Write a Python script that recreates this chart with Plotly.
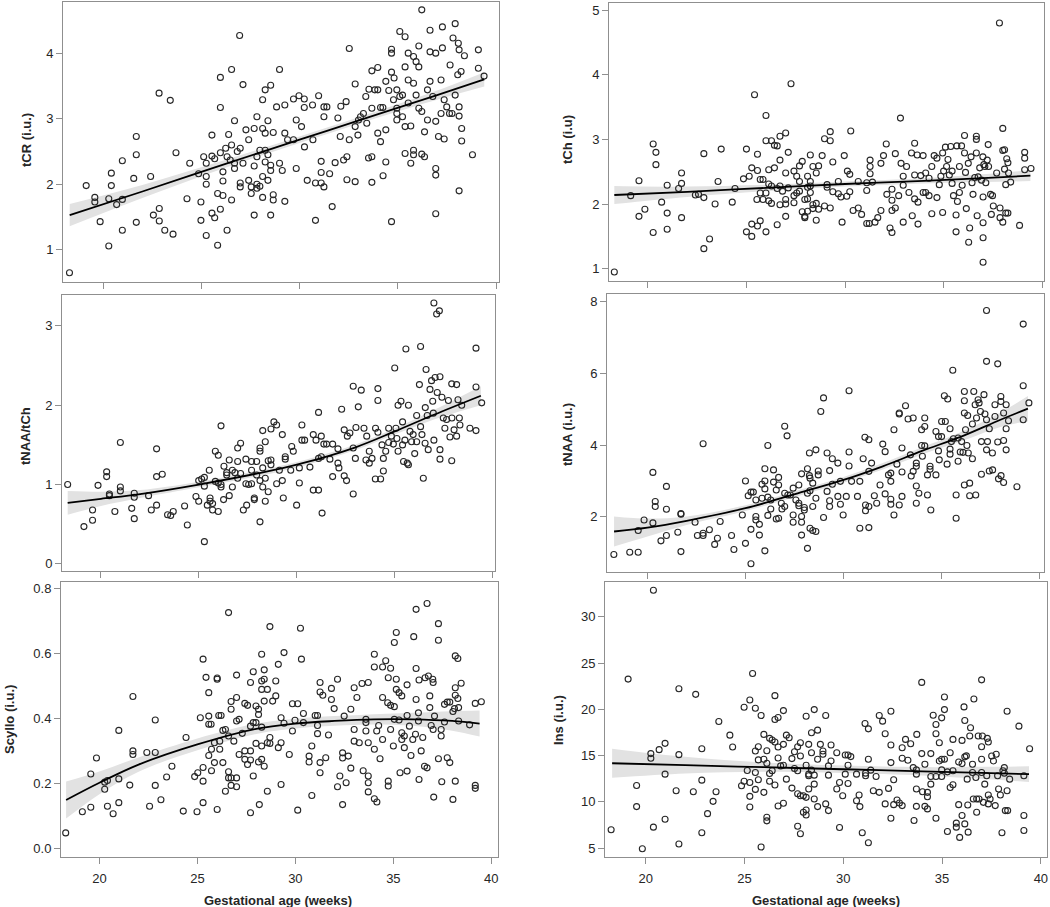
import plotly.graph_objects as go

# ---------------- Data ----------------
# Panel 1: tCR (i.u.)
tcr_age = [18.29,19.14,19.58,19.58,19.85,20.29,20.29,20.42,20.42,20.69,
           20.98,20.98,20.98,21.56,21.69,21.69,21.69,22.42,22.56,22.85,
           22.86,22.86,23.14,23.42,23.56,23.71,24.27,24.41,24.86,24.98,
           24.98,25.12,25.25,25.25,25.25,25.25,25.54,25.54,25.54,25.68,
           25.68,25.83,25.83,25.97,25.97,25.97,25.97,26.10,26.10,26.10,
           26.24,26.31,26.31,26.39,26.47,26.54,26.54,26.54,26.69,26.69,
           26.69,26.83,26.95,26.98,26.98,26.98,27.12,27.12,27.27,27.41,
           27.41,27.54,27.54,27.69,27.69,27.69,27.83,27.83,27.83,27.83,
           27.98,27.98,28.12,28.12,28.12,28.12,28.25,28.25,28.25,28.25,
           28.39,28.39,28.39,28.53,28.53,28.53,28.53,28.66,28.66,28.66,
           28.83,28.98,28.98,29.12,29.25,29.25,29.25,29.39,29.69,29.69,
           29.83,29.83,29.97,30.10,30.24,30.24,30.25,30.39,30.66,30.68,
           30.81,30.81,30.97,31.10,31.10,31.10,31.24,31.24,31.24,31.39,
           31.53,31.66,31.81,31.95,32.07,32.10,32.24,32.37,32.41,32.41,
           32.53,32.53,32.83,32.83,32.83,32.97,33.00,33.10,33.25,33.37,
           33.42,33.51,33.53,33.68,33.68,33.68,33.68,33.83,33.98,33.98,
           33.98,34.12,34.12,34.24,34.25,34.39,34.39,34.39,34.54,34.68,
           34.68,34.68,34.68,34.78,34.81,34.95,34.95,34.95,34.95,35.10,
           35.10,35.24,35.24,35.37,35.37,35.37,35.37,35.53,35.53,35.53,
           35.66,35.66,35.80,35.80,35.80,35.80,35.93,35.93,36.07,36.07,
           36.07,36.22,36.22,36.22,36.36,36.36,36.51,36.51,36.64,36.64,
           36.64,36.78,36.93,36.93,36.93,36.93,36.93,37.07,37.20,37.20,
           37.27,37.27,37.36,37.36,37.49,37.63,37.66,37.76,37.81,37.92,
           37.92,38.05,38.08,38.12,38.12,38.12,38.12,38.22,38.25,38.25,
           38.39,38.80,39.10,39.10,39.39]
tcr_val = [0.65,1.98,1.80,1.73,1.43,1.78,1.06,2.17,1.98,1.69,
           1.77,2.36,1.30,2.09,2.73,2.45,1.42,2.12,1.53,3.39,
           1.63,1.44,1.30,3.28,1.24,2.48,1.78,2.32,2.16,1.73,
           1.45,2.42,2.32,2.12,2.00,1.22,2.75,2.43,1.56,1.49,
           2.39,1.86,1.07,3.63,3.17,2.48,1.62,2.05,2.19,1.83,
           2.55,2.42,1.30,2.76,2.37,3.75,2.60,1.76,2.97,2.32,
           2.24,2.50,4.27,2.55,2.02,1.96,3.52,2.32,2.83,2.68,
           2.06,1.86,1.96,2.85,2.28,1.53,3.03,2.42,2.00,1.94,
           2.52,1.97,3.29,2.85,2.12,1.80,3.44,2.78,2.52,2.34,
           2.97,2.45,2.06,3.51,2.29,2.21,1.53,2.79,1.84,1.76,
           3.18,3.75,2.32,2.21,3.21,2.78,1.74,2.68,3.30,2.68,
           2.98,2.24,3.35,2.88,3.30,3.17,2.57,2.06,3.21,2.68,
           2.02,1.45,3.35,2.35,2.18,2.02,3.03,1.96,3.18,3.18,
           2.16,1.66,2.33,3.01,2.73,3.19,2.37,3.26,2.42,2.07,
           4.07,2.68,3.53,2.88,2.04,2.75,2.98,3.03,3.08,3.34,
           2.93,2.40,3.45,3.73,3.16,2.42,2.03,3.44,3.78,3.44,
           2.78,2.65,3.17,3.17,2.13,3.57,2.34,2.83,3.43,4.06,
           4.00,3.71,1.43,3.29,3.62,3.44,3.16,3.08,2.98,4.33,
           3.34,3.36,3.03,4.25,3.79,2.88,2.47,4.00,3.59,3.24,
           2.32,2.89,3.95,3.54,2.52,2.45,3.87,3.36,4.11,3.79,
           3.16,3.11,2.46,4.66,2.42,2.80,3.44,2.98,4.35,4.02,
           3.57,3.34,4.00,2.96,2.24,2.14,1.55,2.73,3.59,3.08,
           4.40,4.08,3.29,2.69,3.18,3.08,3.82,3.08,4.23,4.45,
           3.36,3.67,4.15,4.05,3.04,3.18,1.90,3.72,2.85,2.66,
           3.96,2.45,4.05,3.77,3.65]
tcr_fit_age = [18.3, 22, 26, 30, 34, 37, 39.4]
tcr_fit = [1.53, 1.89, 2.29, 2.68, 3.07, 3.36, 3.60]
tcr_fit_se = [0.17, 0.10, 0.06, 0.05, 0.05, 0.07, 0.11]

# Panel 2: tNAA/tCh
ratio_age = [18.30,19.13,19.57,19.57,19.85,20.29,20.29,20.43,20.43,20.71,
             20.99,20.99,20.99,21.57,21.70,21.70,21.70,22.43,22.57,22.84,
             22.84,22.84,23.13,23.40,23.56,23.69,24.27,24.41,24.85,24.99,
             24.99,25.14,25.28,25.28,25.28,25.43,25.53,25.57,25.57,25.70,
             25.70,25.84,25.84,25.99,25.99,25.99,26.13,26.13,26.13,26.26,
             26.28,26.42,26.42,26.55,26.55,26.71,26.71,26.84,26.98,26.98,
             26.98,27.13,27.13,27.27,27.40,27.40,27.44,27.54,27.69,27.69,
             27.69,27.83,27.83,27.95,27.95,28.12,28.12,28.12,28.12,28.26,
             28.26,28.26,28.39,28.39,28.39,28.54,28.54,28.68,28.68,28.68,
             28.83,28.97,28.97,29.11,29.26,29.26,29.31,29.41,29.41,29.69,
             29.74,29.82,29.99,30.13,30.13,30.26,30.26,30.40,30.67,30.84,
             30.84,30.98,31.11,31.11,31.11,31.25,31.25,31.29,31.38,31.52,
             31.69,31.83,31.83,32.10,32.10,32.15,32.29,32.42,32.42,32.54,
             32.58,32.71,32.88,32.88,32.88,32.99,33.02,33.14,33.29,33.43,
             33.53,33.57,33.70,33.70,33.84,34.01,34.02,34.14,34.14,34.14,
             34.28,34.35,34.42,34.42,34.54,34.69,34.69,34.83,34.93,35.00,
             35.06,35.11,35.17,35.17,35.32,35.40,35.40,35.45,35.52,35.57,
             35.64,35.70,35.70,35.78,35.86,35.94,36.02,36.12,36.12,36.26,
             36.32,36.32,36.39,36.46,36.55,36.56,36.60,36.66,36.71,36.80,
             36.88,36.94,36.97,37.00,37.00,37.06,37.14,37.17,37.28,37.31,
             37.31,37.31,37.41,37.48,37.56,37.65,37.74,37.82,37.91,37.91,
             37.92,38.03,38.16,38.16,38.23,38.30,38.33,38.42,38.84,39.15,
             39.15,39.15,39.44]
ratio_val = [1.00,0.47,0.68,0.55,0.99,1.16,1.10,0.88,0.86,0.66,
             1.53,0.97,0.92,0.70,0.89,0.84,0.57,0.86,0.68,1.45,
             1.10,0.74,1.13,0.62,0.61,0.66,0.73,0.49,0.85,0.79,
             1.05,1.07,1.09,0.98,0.28,0.74,1.18,0.83,0.79,0.76,
             0.68,1.42,1.04,1.37,1.02,0.66,1.74,1.00,0.97,0.81,
             1.23,1.15,1.12,1.31,0.86,1.18,0.97,1.15,1.46,1.29,
             1.08,1.52,1.14,0.68,1.32,1.01,0.74,1.00,1.29,1.18,
             1.01,0.83,0.81,1.29,1.12,1.46,1.42,1.05,0.53,1.68,
             1.21,0.97,1.54,1.08,0.79,1.30,0.91,1.70,1.31,1.25,
             1.79,1.75,1.01,1.18,1.63,1.05,0.83,1.35,1.32,1.18,
             1.48,1.42,0.74,1.21,1.02,1.75,1.56,1.56,1.22,0.93,
             1.63,1.56,1.91,1.33,0.93,1.61,1.35,0.64,1.51,1.51,
             1.32,1.51,1.10,1.45,1.27,1.21,1.95,1.69,1.11,1.05,
             1.61,1.65,2.24,1.46,0.88,1.33,1.72,1.98,2.19,1.71,
             1.31,1.61,1.42,1.27,1.33,1.07,1.71,2.21,2.06,1.66,
             1.07,1.50,1.33,1.17,1.42,1.71,1.53,1.61,1.51,2.47,
             1.71,1.58,1.42,2.00,2.05,1.50,1.79,1.29,1.56,2.71,
             1.27,2.00,1.25,1.67,1.54,1.63,1.39,1.87,1.54,2.26,
             2.74,1.73,1.63,1.08,1.52,1.97,2.45,1.87,1.44,2.20,
             2.31,2.05,1.90,3.29,1.56,2.35,3.15,2.16,3.19,2.36,
             1.44,1.32,2.10,1.84,1.71,1.82,2.06,1.60,2.27,1.30,
             1.84,1.69,2.26,1.61,2.07,1.84,1.75,2.00,1.71,2.72,
             2.23,1.68,2.03]
ratio_fit_age = [18.3, 20, 22, 25, 28, 30, 33, 35, 37, 39.4]
ratio_fit = [0.77, 0.82, 0.88, 1.00, 1.14, 1.25, 1.47, 1.67, 1.88, 2.12]
ratio_fit_se = [0.15, 0.09, 0.05, 0.035, 0.035, 0.035, 0.035, 0.04, 0.06, 0.12]

# Panel 3: Scyllo (i.u.)
scy_age = [18.28,19.13,19.56,19.56,19.85,20.27,20.27,20.41,20.41,20.70,
           20.99,20.99,20.99,21.55,21.71,21.71,21.71,22.42,22.56,22.85,
           22.85,22.85,23.14,23.43,23.70,24.28,24.42,24.86,24.98,25.02,
           25.15,25.29,25.29,25.29,25.29,25.44,25.58,25.58,25.58,25.58,
           25.70,25.72,25.72,25.87,25.87,26.01,26.01,26.01,26.09,26.14,
           26.14,26.21,26.30,26.30,26.43,26.43,26.59,26.59,26.59,26.59,
           26.72,26.72,26.72,26.72,26.86,27.00,27.00,27.00,27.00,27.00,
           27.13,27.13,27.29,27.42,27.42,27.42,27.56,27.56,27.71,27.71,
           27.71,27.71,27.71,27.85,27.85,27.85,27.99,27.99,27.99,28.12,
           28.12,28.12,28.16,28.28,28.28,28.28,28.28,28.28,28.28,28.41,
           28.41,28.41,28.41,28.57,28.57,28.57,28.70,28.70,28.70,28.84,
           29.00,29.00,29.13,29.13,29.27,29.27,29.27,29.42,29.42,29.69,
           29.85,29.85,29.98,30.12,30.12,30.26,30.31,30.41,30.41,30.70,
           30.70,30.84,30.84,31.01,31.13,31.13,31.13,31.26,31.26,31.26,
           31.26,31.40,31.55,31.69,31.84,31.84,31.98,32.15,32.15,32.27,
           32.41,32.41,32.41,32.49,32.59,32.70,32.83,32.83,33.00,33.00,
           33.00,33.14,33.26,33.40,33.46,33.60,33.60,33.60,33.72,33.72,
           33.72,33.72,33.72,34.03,34.03,34.03,34.03,34.15,34.16,34.25,
           34.32,34.45,34.45,34.45,34.61,34.71,34.74,34.74,34.74,34.86,
           34.86,34.86,35.00,35.05,35.05,35.05,35.15,35.15,35.15,35.29,
           35.29,35.34,35.43,35.43,35.43,35.56,35.56,35.70,35.70,35.70,
           35.82,35.90,35.99,36.04,36.13,36.16,36.16,36.16,36.28,36.28,
           36.31,36.31,36.42,36.50,36.59,36.62,36.72,36.72,36.79,36.86,
           36.86,36.93,37.01,37.03,37.03,37.06,37.10,37.30,37.30,37.30,
           37.44,37.44,37.47,37.61,37.61,37.75,37.75,37.88,37.88,38.04,
           38.04,38.12,38.16,38.16,38.16,38.16,38.29,38.29,38.33,38.33,
           38.46,38.89,39.18,39.18,39.18,39.49]
scy_val = [0.049,0.114,0.230,0.128,0.279,0.183,0.205,0.210,0.131,0.108,
           0.364,0.215,0.142,0.196,0.468,0.301,0.290,0.296,0.131,0.396,
           0.296,0.195,0.151,0.221,0.254,0.116,0.342,0.222,0.114,0.234,
           0.403,0.583,0.250,0.208,0.142,0.527,0.480,0.408,0.383,0.287,
           0.383,0.306,0.240,0.326,0.265,0.525,0.521,0.121,0.410,0.331,
           0.306,0.410,0.364,0.265,0.367,0.177,0.726,0.347,0.237,0.218,
           0.453,0.429,0.218,0.195,0.331,0.534,0.465,0.393,0.218,0.191,
           0.398,0.290,0.355,0.447,0.301,0.275,0.441,0.259,0.511,0.377,
           0.301,0.273,0.111,0.544,0.388,0.224,0.439,0.388,0.324,0.429,
           0.413,0.267,0.136,0.516,0.490,0.374,0.316,0.275,0.598,0.550,
           0.521,0.454,0.254,0.490,0.326,0.177,0.683,0.342,0.324,0.454,
           0.516,0.470,0.567,0.311,0.326,0.403,0.198,0.603,0.386,0.290,
           0.362,0.446,0.395,0.446,0.119,0.678,0.583,0.416,0.388,0.285,
           0.267,0.316,0.164,0.410,0.410,0.354,0.379,0.511,0.482,0.265,
           0.234,0.472,0.280,0.350,0.493,0.459,0.431,0.521,0.191,0.224,
           0.295,0.279,0.136,0.408,0.203,0.285,0.429,0.248,0.495,0.367,
           0.331,0.465,0.326,0.508,0.240,0.398,0.388,0.362,0.511,0.326,
           0.224,0.203,0.175,0.598,0.559,0.306,0.154,0.362,0.144,0.379,
           0.277,0.559,0.465,0.336,0.578,0.449,0.526,0.208,0.193,0.555,
           0.441,0.367,0.316,0.634,0.437,0.398,0.665,0.521,0.490,0.480,
           0.396,0.234,0.470,0.357,0.336,0.347,0.311,0.504,0.410,0.239,
           0.377,0.287,0.336,0.652,0.352,0.554,0.736,0.459,0.393,0.418,
           0.519,0.213,0.301,0.342,0.254,0.526,0.754,0.249,0.531,0.470,
           0.434,0.379,0.521,0.511,0.367,0.159,0.408,0.692,0.641,0.277,
           0.367,0.347,0.206,0.444,0.390,0.451,0.280,0.451,0.265,0.422,
           0.152,0.431,0.593,0.495,0.472,0.208,0.585,0.462,0.434,0.393,
           0.509,0.381,0.447,0.195,0.186,0.452]
scy_fit_age = [18.3, 20, 22, 25, 28, 30, 32, 34, 36, 38, 39.4]
scy_fit = [0.150, 0.203, 0.259, 0.321, 0.369, 0.385, 0.393, 0.398, 0.398, 0.393, 0.385]
scy_fit_se = [0.057, 0.035, 0.022, 0.018, 0.016, 0.015, 0.015, 0.016, 0.020, 0.030, 0.040]

# Panel 4: tCh (i.u)
tch_age = [18.30,19.13,19.55,19.55,19.85,20.27,20.27,20.41,20.41,20.70,
           20.98,20.98,20.98,21.56,21.71,21.71,21.71,22.41,22.57,22.84,
           22.84,22.84,23.13,23.41,23.56,23.72,24.28,24.42,24.85,25.00,
           25.00,25.14,25.27,25.27,25.27,25.41,25.53,25.56,25.56,25.56,
           25.70,25.70,25.70,25.84,25.84,25.99,25.99,25.99,25.99,26.13,
           26.13,26.13,26.27,26.27,26.27,26.42,26.42,26.56,26.56,26.56,
           26.70,26.70,26.70,26.70,26.83,26.99,26.99,26.99,26.99,26.99,
           27.12,27.12,27.26,27.41,27.41,27.41,27.55,27.55,27.69,27.69,
           27.69,27.83,27.83,27.96,27.96,27.96,28.10,28.10,28.10,28.10,
           28.24,28.24,28.24,28.24,28.37,28.37,28.37,28.54,28.54,28.54,
           28.66,28.66,28.84,28.96,28.96,29.09,29.09,29.25,29.25,29.25,
           29.38,29.38,29.66,29.66,29.79,29.85,29.96,30.09,30.12,30.24,
           30.24,30.29,30.41,30.67,30.67,30.84,31.10,31.10,31.10,31.23,
           31.27,31.27,31.27,31.39,31.52,31.66,31.82,31.82,31.95,32.09,
           32.12,32.28,32.38,32.38,32.38,32.38,32.55,32.55,32.72,32.81,
           32.84,32.95,32.95,32.95,33.12,33.24,33.37,33.41,33.53,33.53,
           33.53,33.66,33.70,33.70,33.84,33.96,33.96,34.09,34.09,34.26,
           34.26,34.40,34.40,34.52,34.66,34.66,34.78,34.86,34.95,34.95,
           35.00,35.09,35.15,35.22,35.29,35.36,35.43,35.43,35.50,35.63,
           35.63,35.67,35.70,35.80,35.80,35.91,35.94,36.06,36.06,36.11,
           36.15,36.25,36.27,36.32,36.39,36.44,36.49,36.58,36.66,36.66,
           36.66,36.70,36.75,36.83,36.92,36.99,37.00,37.00,37.00,37.00,
           37.04,37.09,37.14,37.21,37.26,37.28,37.38,37.42,37.48,37.52,
           37.69,37.83,37.86,37.86,38.00,38.00,38.00,38.09,38.09,38.15,
           38.15,38.20,38.26,38.26,38.29,38.40,38.85,39.11,39.11,39.11,
           39.43]
tch_val = [0.95,2.13,1.81,2.36,1.92,2.93,1.56,2.80,2.61,2.03,
           2.29,1.86,1.61,2.24,2.48,2.32,1.79,2.14,2.15,2.78,
           2.10,1.31,1.46,2.00,2.35,2.85,2.03,2.24,2.39,2.85,
           1.57,2.43,2.56,1.69,1.50,3.69,2.07,2.77,2.52,1.66,
           2.38,2.17,1.74,2.38,2.07,3.37,2.98,2.17,1.57,2.53,
           2.31,2.05,2.98,2.28,2.01,2.91,2.56,2.90,2.24,1.68,
           3.05,2.68,2.28,1.99,2.20,3.10,2.48,2.07,2.00,1.81,
           2.80,2.25,3.86,2.51,2.13,2.02,2.43,2.17,2.59,2.35,
           2.20,2.66,1.88,2.07,1.81,1.79,2.43,2.26,2.08,1.89,
           2.76,2.35,2.28,2.18,2.58,1.93,1.99,2.01,1.75,2.48,
           2.59,1.92,2.75,3.01,1.97,2.30,2.26,3.12,2.98,1.94,
           2.65,2.19,2.35,2.16,2.11,1.72,2.75,2.12,2.51,2.46,
           2.19,3.13,1.90,2.35,1.94,1.84,2.33,2.21,1.70,1.70,
           2.68,2.58,2.47,2.34,1.72,1.79,2.63,1.90,2.75,2.93,
           2.15,1.63,2.23,2.06,1.90,1.56,2.78,1.94,2.13,3.33,
           2.63,2.43,2.29,1.72,2.58,2.18,2.79,1.82,2.94,2.45,
           2.08,2.76,2.03,1.69,2.44,2.75,2.18,2.48,2.18,2.13,
           2.40,1.85,2.58,2.75,2.71,2.10,2.30,2.43,2.79,1.87,
           2.51,2.88,2.58,2.69,2.45,2.89,2.32,2.51,2.13,1.83,
           1.57,2.90,2.04,2.58,2.18,2.90,2.29,3.06,2.79,2.49,
           1.93,2.63,1.41,1.63,2.73,2.33,2.15,2.41,3.05,3.00,
           2.79,1.82,2.42,2.56,2.37,2.73,2.11,1.71,1.48,1.10,
           2.61,2.58,2.33,2.68,2.92,2.58,2.15,1.84,2.13,1.97,
           2.48,4.80,1.94,1.79,3.17,1.72,2.83,2.84,2.54,2.30,
           1.86,2.70,2.64,1.86,2.48,2.34,1.67,2.80,2.71,2.53,
           2.55]
tch_fit_age = [18.3, 22, 26, 30, 34, 37, 39.4]
tch_fit = [2.14, 2.19, 2.25, 2.31, 2.36, 2.40, 2.44]
tch_fit_se = [0.14, 0.08, 0.05, 0.04, 0.04, 0.06, 0.085]

# Panel 5: tNAA (i.u.)
tnaa_age = [18.29,19.10,19.53,19.53,19.83,20.28,20.28,20.40,20.40,20.69,
            20.97,20.97,20.97,21.55,21.71,21.71,21.71,22.43,22.55,22.84,
            22.84,22.84,23.16,23.43,23.57,23.71,24.29,24.41,24.84,25.00,
            25.00,25.14,25.28,25.28,25.28,25.40,25.53,25.53,25.53,25.71,
            25.71,25.84,25.84,25.99,25.99,25.99,25.99,26.14,26.14,26.14,
            26.29,26.29,26.43,26.43,26.57,26.57,26.69,26.69,26.69,26.83,
            26.86,27.00,27.00,27.00,27.12,27.16,27.29,27.43,27.43,27.43,
            27.57,27.72,27.72,27.72,27.86,27.86,27.86,27.86,28.00,28.00,
            28.16,28.16,28.16,28.26,28.26,28.29,28.29,28.29,28.43,28.43,
            28.43,28.59,28.59,28.59,28.71,28.71,28.84,28.98,28.98,29.16,
            29.16,29.29,29.29,29.29,29.43,29.43,29.71,29.71,29.84,29.84,
            29.98,30.14,30.28,30.28,30.28,30.41,30.71,30.83,30.83,31.00,
            31.09,31.12,31.12,31.29,31.29,31.29,31.29,31.43,31.57,31.69,
            31.86,32.00,32.12,32.12,32.29,32.41,32.41,32.41,32.41,32.57,
            32.57,32.72,32.84,32.84,32.84,32.98,32.98,32.98,33.16,33.29,
            33.41,33.45,33.55,33.55,33.71,33.71,33.71,33.71,33.84,33.98,
            33.98,34.02,34.14,34.14,34.14,34.28,34.28,34.41,34.41,34.45,
            34.71,34.71,34.84,34.84,34.88,35.00,35.00,35.14,35.19,35.28,
            35.31,35.43,35.43,35.43,35.50,35.57,35.60,35.74,35.74,35.84,
            35.84,35.95,36.02,36.09,36.16,36.16,36.16,36.16,36.22,36.29,
            36.33,36.36,36.43,36.43,36.57,36.57,36.64,36.71,36.74,36.78,
            36.86,36.91,36.98,37.03,37.03,37.16,37.21,37.29,37.29,37.29,
            37.29,37.34,37.43,37.43,37.59,37.60,37.72,37.72,37.86,37.86,
            37.90,38.02,38.02,38.03,38.16,38.16,38.16,38.29,38.29,38.29,
            38.41,38.84,39.16,39.16,39.16,39.45]
tnaa_val = [0.95,1.01,1.01,1.62,1.91,3.24,1.83,2.43,2.29,1.33,
            2.85,2.21,1.48,1.57,2.09,2.07,1.03,1.85,1.48,4.04,
            1.54,1.48,1.64,1.23,1.40,1.87,1.48,1.09,2.05,3.00,
            1.26,2.59,2.69,1.65,0.69,2.69,2.47,2.01,1.91,1.79,
            1.49,2.91,2.52,3.34,3.00,2.78,1.05,3.99,2.55,2.04,
            2.47,2.22,3.31,2.97,2.75,1.94,3.10,2.89,1.96,2.38,
            2.22,4.53,2.66,2.29,4.26,2.61,2.61,2.80,2.05,1.85,
            2.47,2.89,2.38,2.31,3.20,2.01,1.85,1.49,2.26,2.19,
            3.34,2.66,1.12,3.78,3.15,3.08,2.73,1.68,2.94,2.29,
            1.62,3.87,2.52,1.59,3.28,3.17,4.94,5.32,1.98,3.78,
            2.71,3.29,2.45,2.29,2.91,3.62,3.50,2.57,2.99,2.35,
            2.05,2.57,5.52,3.81,3.42,2.99,2.57,1.68,2.99,3.62,
            4.22,2.33,2.17,4.15,3.27,2.29,1.70,3.50,2.59,2.38,
            2.89,4.03,3.82,2.64,3.17,3.22,2.99,2.49,2.35,4.43,
            2.05,3.47,4.90,4.87,2.33,3.92,3.25,2.57,5.10,4.73,
            3.73,3.14,4.76,3.27,3.50,3.41,2.86,2.38,2.66,4.43,
            3.99,3.69,4.76,4.52,3.98,3.17,2.61,3.41,3.33,2.19,
            4.38,3.17,4.24,3.84,3.59,4.66,4.24,5.38,4.66,3.47,
            5.29,4.46,3.89,3.75,4.10,6.09,4.18,2.61,1.96,4.20,
            3.55,3.81,4.10,3.80,5.50,5.24,4.90,2.89,4.43,3.99,
            4.83,3.78,2.94,2.59,4.59,3.62,5.50,5.13,2.61,4.76,
            5.27,5.18,4.94,4.10,3.19,5.41,4.87,7.76,6.34,4.71,
            3.87,4.10,4.46,3.28,3.78,3.31,4.80,5.13,6.27,4.09,
            3.06,5.36,5.22,3.15,4.90,4.13,2.96,5.13,3.87,4.46,
            4.68,2.84,7.38,5.66,4.71,5.18]
tnaa_fit_age = [18.3, 20, 22, 25, 28, 30, 32, 34, 36, 38, 39.4]
tnaa_fit = [1.59, 1.70, 1.89, 2.24, 2.71, 3.03, 3.41, 3.84, 4.24, 4.71, 5.02]
tnaa_fit_se = [0.42, 0.25, 0.12, 0.08, 0.08, 0.08, 0.09, 0.10, 0.13, 0.20, 0.35]

# Panel 6: Ins (i.u.)
ins_age = [18.25,19.11,19.54,19.54,19.83,20.26,20.26,20.39,20.39,20.68,
           20.98,20.98,20.98,21.54,21.68,21.68,21.68,22.41,22.53,22.84,
           22.84,22.84,23.13,23.41,23.56,23.70,24.26,24.40,24.85,24.98,
           24.98,25.14,25.27,25.27,25.27,25.27,25.41,25.55,25.55,25.55,
           25.55,25.70,25.70,25.70,25.84,25.84,25.98,25.98,25.98,26.13,
           26.13,26.13,26.13,26.27,26.27,26.27,26.40,26.40,26.54,26.54,
           26.54,26.54,26.70,26.70,26.70,26.70,26.83,26.97,26.97,26.97,
           26.97,27.12,27.12,27.26,27.40,27.40,27.53,27.53,27.69,27.69,
           27.69,27.69,27.83,27.83,27.83,27.83,27.98,27.98,28.12,28.12,
           28.12,28.12,28.12,28.25,28.25,28.25,28.25,28.39,28.39,28.39,
           28.53,28.53,28.53,28.53,28.70,28.70,28.70,28.84,28.97,28.97,
           29.11,29.11,29.25,29.25,29.25,29.38,29.38,29.67,29.67,29.81,
           29.81,29.97,30.10,30.10,30.24,30.24,30.24,30.38,30.67,30.67,
           30.80,30.84,30.96,31.10,31.13,31.13,31.27,31.27,31.27,31.39,
           31.52,31.66,31.82,31.82,31.99,32.12,32.12,32.29,32.41,32.41,
           32.41,32.41,32.55,32.55,32.72,32.84,32.98,32.98,32.98,33.15,
           33.27,33.41,33.54,33.58,33.70,33.70,33.70,33.70,33.72,33.97,
           33.97,34.01,34.13,34.13,34.26,34.26,34.26,34.43,34.43,34.43,
           34.55,34.69,34.69,34.69,34.69,34.86,34.86,34.98,34.98,34.98,
           34.98,35.12,35.12,35.12,35.27,35.27,35.41,35.41,35.55,35.55,
           35.55,35.72,35.72,35.84,35.84,35.89,36.01,36.01,36.01,36.11,
           36.15,36.15,36.15,36.23,36.27,36.30,36.32,36.40,36.44,36.54,
           36.54,36.58,36.61,36.71,36.75,36.75,36.83,36.87,37.00,37.00,
           37.00,37.00,37.04,37.09,37.16,37.26,37.29,37.34,37.34,37.34,
           37.43,37.51,37.60,37.69,37.74,37.81,37.86,37.95,38.03,38.08,
           38.15,38.15,38.20,38.29,38.29,38.32,38.42,38.89,39.14,39.14,
           39.14,39.43]
ins_val = [6.97,23.27,11.77,9.48,4.93,15.21,14.71,32.87,7.26,15.64,
           16.32,12.99,8.12,11.20,22.23,15.10,5.43,11.09,21.62,15.74,
           12.34,6.65,8.72,10.05,11.09,18.68,17.21,15.92,11.73,20.22,
           12.23,13.38,21.01,12.09,10.59,9.44,23.88,20.11,15.49,13.17,
           11.34,15.96,14.53,12.38,19.33,5.11,17.29,11.02,14.60,15.52,
           14.17,8.33,7.94,16.86,13.06,12.23,16.68,13.35,21.48,18.90,
           16.46,11.81,19.11,15.92,14.74,9.55,13.88,19.86,16.21,13.95,
           9.84,17.21,12.45,16.93,14.67,11.48,13.60,15.42,15.96,13.35,
           10.87,7.36,16.39,14.96,10.66,6.54,10.66,8.87,19.25,13.95,
           10.48,9.12,8.58,16.21,12.99,12.81,11.38,17.46,15.31,13.42,
           19.97,12.88,11.91,10.30,17.75,14.60,9.48,16.21,15.49,15.14,
           19.33,9.77,13.88,12.88,9.05,16.14,14.42,15.31,11.38,12.09,
           7.22,10.66,15.06,12.99,15.06,13.95,11.98,14.89,12.99,10.12,
           10.73,9.48,6.65,18.47,13.10,12.81,17.89,14.60,5.57,13.42,
           11.20,12.74,11.02,19.33,18.72,17.36,9.77,11.45,19.79,16.14,
           14.24,8.22,12.38,9.69,10.19,9.87,9.59,15.85,14.71,16.75,
           14.49,16.28,13.70,7.97,13.45,12.99,11.38,9.51,17.29,22.91,
           15.21,11.09,14.06,9.51,11.02,10.55,9.23,15.21,12.74,11.91,
           19.36,18.36,17.36,12.74,8.22,16.39,14.42,19.08,14.60,13.45,
           12.74,19.97,21.33,14.60,13.24,6.79,15.31,11.55,16.75,13.35,
           11.84,7.26,7.69,14.31,9.69,6.15,16.64,14.13,8.51,20.26,
           18.79,14.86,7.61,14.97,12.45,9.66,6.72,17.11,18.00,14.06,
           13.17,10.30,21.12,12.63,10.30,8.87,17.11,10.30,23.19,15.96,
           14.60,13.17,17.11,9.94,11.91,12.81,16.86,16.46,10.73,9.77,
           10.30,14.96,14.42,9.59,15.14,12.81,11.38,10.73,6.65,13.35,
           13.70,13.10,9.05,19.79,11.20,9.05,12.45,18.18,12.81,8.51,
           6.90,15.74]
ins_fit_age = [18.3, 22, 26, 30, 34, 37, 39.4]
ins_fit = [14.17, 13.96, 13.74, 13.52, 13.30, 13.13, 12.99]
ins_fit_se = [1.58, 0.90, 0.50, 0.40, 0.45, 0.65, 0.85]

age_ticks = [20, 25, 30, 35, 40]
x_title = "Gestational age (weeks)"

# ---------------- Layout configuration ----------------
W, H = 1050, 907
FONT = "Liberation Sans, Arial, Helvetica, sans-serif"
FRAME = "#8f8f8f"
TXT = "#262626"


def fx(px):
    return px / W


def fy(py):
    return 1 - py / H


panels = [
    dict(x=tcr_age, y=tcr_val, fx=tcr_fit_age, fy=tcr_fit, fs=tcr_fit_se,
         px=(63, 499), py=(2, 282), xr=(17.96, 40.15), yr=(0.51, 4.78),
         yt=[1, 2, 3, 4], yfmt=None, title="tCR (i.u.)", tpos=(26, 140), xlab=False),
    dict(x=ratio_age, y=ratio_val, fx=ratio_fit_age, fy=ratio_fit, fs=ratio_fit_se,
         px=(62, 495), py=(295, 571), xr=(18.01, 40.12), yr=(-0.09, 3.39),
         yt=[0, 1, 2, 3], yfmt=None, title="tNAA/tCh", tpos=(25, 436), xlab=False),
    dict(x=scy_age, y=scy_val, fx=scy_fit_age, fy=scy_fit, fs=scy_fit_se,
         px=(61, 498), py=(582, 857), xr=(18.04, 40.34), yr=(-0.025, 0.82),
         yt=[0, 0.2, 0.4, 0.6, 0.8], yfmt=".1f", title="Scyllo (i.u.)", tpos=(9, 720), xlab=True),
    dict(x=tch_age, y=tch_val, fx=tch_fit_age, fy=tch_fit, fs=tch_fit_se,
         px=(609, 1044), py=(3, 281), xr=(18.03, 40.09), yr=(0.81, 5.11),
         yt=[1, 2, 3, 4, 5], yfmt=None, title="tCh (i.u)", tpos=(567, 140), xlab=False),
    dict(x=tnaa_age, y=tnaa_val, fx=tnaa_fit_age, fy=tnaa_fit, fs=tnaa_fit_se,
         px=(607, 1044), py=(294, 572), xr=(17.94, 40.22), yr=(0.46, 8.22),
         yt=[2, 4, 6, 8], yfmt=None, title="tNAA (i.u.)", tpos=(568, 435), xlab=False),
    dict(x=ins_age, y=ins_val, fx=ins_fit_age, fy=ins_fit, fs=ins_fit_se,
         px=(605, 1047), py=(582, 857), xr=(17.94, 40.31), yr=(4.03, 33.77),
         yt=[5, 10, 15, 20, 25, 30], yfmt=None, title="Ins (i.u.)", tpos=(558, 720), xlab=True),
]

for p in panels:
    if len(p["x"]) != len(p["y"]):
        raise ValueError(f"{p['title']}: {len(p['x'])} vs {len(p['y'])}")

fig = go.Figure()
annotations = []

for i, p in enumerate(panels, start=1):
    xa = "x" if i == 1 else f"x{i}"
    ya = "y" if i == 1 else f"y{i}"
    lower = [m - s for m, s in zip(p["fy"], p["fs"])]
    upper = [m + s for m, s in zip(p["fy"], p["fs"])]
    # confidence band
    fig.add_trace(go.Scatter(x=p["fx"], y=lower, mode="lines",
                             line=dict(width=0, color="rgba(0,0,0,0)", shape="spline"),
                             xaxis=xa, yaxis=ya, showlegend=False, hoverinfo="skip"))
    fig.add_trace(go.Scatter(x=p["fx"], y=upper, mode="lines", fill="tonexty",
                             fillcolor="#e2e2e2",
                             line=dict(width=0, color="rgba(0,0,0,0)", shape="spline"),
                             xaxis=xa, yaxis=ya, showlegend=False, hoverinfo="skip"))
    # data points
    fig.add_trace(go.Scatter(x=p["x"], y=p["y"], mode="markers",
                             marker=dict(symbol="circle-open", size=6, color="#262626",
                                         line=dict(width=1.1)),
                             xaxis=xa, yaxis=ya, showlegend=False))
    # fitted curve
    fig.add_trace(go.Scatter(x=p["fx"], y=p["fy"], mode="lines",
                             line=dict(color="black", width=1.8, shape="spline"),
                             xaxis=xa, yaxis=ya, showlegend=False))

    axis_common = dict(showline=True, linecolor=FRAME, linewidth=1, mirror=True,
                       ticks="outside", ticklen=6, tickcolor=FRAME, tickwidth=1,
                       showgrid=False, zeroline=False,
                       tickfont=dict(family=FONT, size=13, color=TXT))
    xkey = "xaxis" if i == 1 else f"xaxis{i}"
    ykey = "yaxis" if i == 1 else f"yaxis{i}"
    fig.update_layout(**{
        xkey: dict(axis_common, domain=[fx(p["px"][0]), fx(p["px"][1])],
                   range=list(p["xr"]), tickvals=age_ticks,
                   showticklabels=p["xlab"], anchor=ya, ticklabelstandoff=3),
        ykey: dict(axis_common, domain=[fy(p["py"][1]), fy(p["py"][0])],
                   range=list(p["yr"]), tickvals=p["yt"],
                   tickformat=p["yfmt"] if p["yfmt"] else "", anchor=xa),
    })
    annotations.append(dict(text=f"<b>{p['title']}</b>", xref="paper", yref="paper",
                            x=fx(p["tpos"][0]), y=fy(p["tpos"][1]),
                            xanchor="center", yanchor="middle", textangle=-90,
                            showarrow=False,
                            font=dict(family=FONT, size=13, color=TXT)))

for cx in (278, 826):
    annotations.append(dict(text=f"<b>{x_title}</b>", xref="paper", yref="paper",
                            x=fx(cx), y=fy(900), xanchor="center", yanchor="middle",
                            showarrow=False, font=dict(family=FONT, size=13, color=TXT)))

fig.update_layout(width=W, height=H, margin=dict(l=0, r=0, t=0, b=0),
                  paper_bgcolor="white", plot_bgcolor="white",
                  annotations=annotations, showlegend=False,
                  font=dict(family=FONT, color=TXT))

# remove the default page margin so the figure sits at the window's top-left corner
fig.write_html("out.html",
               config={"displayModeBar": False},
               post_script="document.body.style.margin='0';"
                           "document.body.style.overflow='hidden';")
